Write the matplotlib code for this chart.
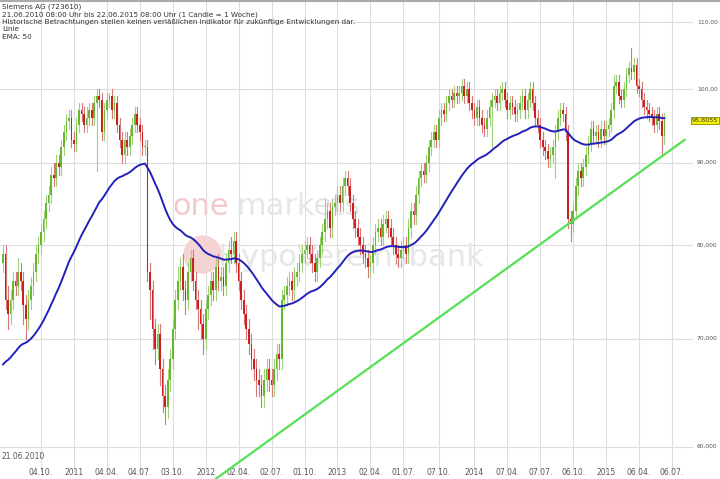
import numpy as np
import matplotlib
matplotlib.use("Agg")
import matplotlib.pyplot as plt

closes = [
 79, 74, 72.5, 74, 76, 75.5, 77, 76, 73.5, 72,
 74, 75.5, 77, 79, 80, 81.5, 83, 85, 86, 88.5,
 88, 90, 89.5, 92, 94, 95.5, 96, 93, 92.5, 95,
 97, 96.5, 95, 96, 97, 96, 98, 99, 98.5, 94,
 97, 98.5, 99, 97, 98, 95, 93, 91, 93, 92,
 93.5, 95, 96.5, 95, 94, 92, 92, 77, 75, 71,
 69, 70.5, 67, 64.5, 63.5, 66, 68, 71, 74, 76,
 77.5, 75, 74, 77, 78.5, 76, 74, 73, 71.5, 70,
 73, 74.5, 76, 75, 77.5, 76, 76.5, 75.5, 78, 79.5,
 79, 80.5, 78, 76, 74, 72.5, 71, 69.5, 68, 67,
 66, 65.5, 64.5, 66, 67, 66, 65.5, 67, 68.5, 68,
 74, 74.5, 75.5, 76, 75, 76.5, 77, 78, 79, 79.5,
 80, 79, 78, 77, 78.5, 80, 81.5, 83, 84, 82,
 84.5, 85, 86, 85, 87, 88, 87, 85, 83, 82,
 81, 80, 79, 78.5, 77.5, 78, 80, 81.5, 82, 81,
 82.5, 83, 82, 81, 80, 79, 78.5, 79.5, 80, 79,
 82, 84, 83.5, 86, 88, 89, 88.5, 90, 92, 93,
 94, 93, 96, 97, 96.5, 98, 99, 98.5, 99.5, 99,
 99.5, 100.5, 99, 100, 98, 97, 96, 97.5, 96, 95,
 94.5, 96, 97.5, 98.5, 99, 98, 99.5, 100, 98.5, 97,
 98, 97.5, 96.5, 97, 98, 99, 97, 98.5, 100, 98,
 96, 95, 93, 92, 91.5, 90.5, 91, 92, 94, 96,
 97, 96.5, 94, 83, 82.5, 84, 87, 89, 88, 89.5,
 91, 92.5, 94.5, 93.5, 94, 93, 94.5, 93.5, 94.5, 95,
 97, 100.5, 101, 99, 98.5, 100, 102, 103, 102.5, 103.5,
 100.5, 100, 98.5, 97.5, 97, 96.5, 96, 95, 96.5, 95.5, 93.5, 95.6,
]
first_open = 78.0
wick_up = [
 1, 1, 1.5, 1, 1, 1, 1.5, 1, 1, 1,
 1, 1, 1, 1, 1, 1, 1, 1, 1, 1,
 1.5, 1, 1, 1, 1, 1, 1, 1, 1, 1,
 1, 1, 1, 1.5, 1, 1, 1, 1, 1, 1,
 1, 1, 0.5, 1, 1, 1, 1, 1, 1, 1,
 1, 1, 1, 1, 1, 1, 1, 1, 1, 1,
 1, 1, 1, 1, 1, 1, 1, 1, 1, 1.5,
 1, 1.5, 1, 1, 1, 1, 1, 1, 1, 1,
 1, 1, 1, 1, 1, 1.5, 1, 1, 1, 1,
 1.5, 1, 1, 1, 1, 1, 1, 1, 1, 1,
 1, 1, 1, 1, 1, 1, 1, 1, 1, 1,
 1, 1, 1, 1, 1, 1, 1, 1, 1, 1,
 1, 1, 1, 1, 1, 1, 1, 2.5, 1, 1,
 1, 1, 1, 1, 1, 1, 1, 1, 1, 1,
 1, 1, 1, 1, 1, 1, 1, 1, 1, 1,
 1, 1, 1, 1, 1, 1, 1, 1, 1, 1,
 1, 1, 1, 1, 1, 1, 1, 1, 1, 1,
 1, 1, 1, 1, 1, 1, 1, 1, 1, 1,
 1, 1, 1, 1, 1, 1, 1, 1, 1, 1,
 1, 1, 1, 1, 1, 1, 1, 1, 1, 1,
 1, 1, 1, 1, 1, 1, 1, 1, 1, 1,
 1, 1, 1, 1, 1, 1, 1, 1, 1, 1,
 1, 1, 1, 1, 1, 1, 1, 1, 1, 1,
 1, 1, 1, 1, 1, 1, 1, 1, 1, 1,
 1, 1.5, 1, 1, 1, 1, 1, 1, 3, 1,
 1, 1, 1, 1, 1, 1, 1, 1, 1, 1, 1, 1,
]
wick_dn = [
 1, 1, 1.5, 1, 1, 1, 1, 1, 2, 2,
 1, 1, 1, 1, 1, 1, 1, 1, 1, 1,
 1, 1, 1, 1, 1, 1, 1, 1, 1, 1,
 1, 1, 1, 1, 1, 1, 1, 9, 1, 1,
 1, 1, 1, 1, 1, 1, 1, 1, 1, 1,
 1, 1, 1, 1, 1, 1, 1, 1, 3, 2,
 1.5, 1, 1.5, 1.5, 1.5, 1, 1, 1, 1, 1,
 1, 1, 1.5, 1, 1, 1, 1, 2, 1.5, 1.5,
 1, 1, 1, 1, 1, 1, 1, 1, 1, 1,
 1, 1, 1, 1, 1, 1, 1, 1, 1, 1,
 1.5, 1, 1, 1, 1, 1, 1, 1, 1, 1,
 1, 1, 1, 1, 1, 1, 1, 1, 1, 1,
 1, 1, 1, 1, 1, 1, 1, 1, 1, 1,
 1, 1, 1, 1, 1, 1, 1, 1, 1, 1,
 1, 1, 1, 1, 1, 1, 1, 1, 1, 1,
 1, 1, 1, 1, 1, 1, 1, 1, 1, 1,
 1, 1, 1, 1, 1, 1, 1, 1, 1, 1,
 1, 1, 1, 1, 1, 1, 1, 1, 1, 1,
 1, 1, 1, 1, 1, 1, 1, 1, 1, 1,
 1, 1, 1, 5.5, 1, 1, 1, 1, 1, 1,
 1, 1, 1, 1, 1, 1, 1, 1, 1, 1,
 1, 1, 1, 1, 1, 1, 1, 1, 4, 1,
 1, 1, 1, 1, 2, 1, 1, 1, 1, 1,
 1, 1, 1, 1, 1, 1, 1, 1, 1, 1,
 1, 1, 1, 1, 1, 1, 1, 1, 1, 1,
 1, 1, 1, 1, 1, 1, 1, 1, 1, 1, 2.5, 1,
]
ema_seed = 67.0
ema_span = 50
trend_pts_x = [84, 269]
trend_pts_y = [57.3, 93.0]
tick_weeks = [15, 28, 41, 54, 67, 80, 93, 106, 119, 132, 145, 158, 172, 186, 199, 212, 225, 238, 251, 264]
tick_labels = ["04.10.", "2011", "04.04.", "04.07.", "03.10.", "2012", "02.04.", "02.07.",
               "01.10.", "2013", "02.04.", "01.07.", "07.10.", "2014", "07.04.", "07.07.",
               "06.10.", "2015", "06.04.", "06.07."]
y_levels = [60, 70, 80, 90, 100, 110]
y_labels = ["60,000", "70,000", "80,000", "90,000", "100,00", "110,00"]
last_label = "95,6055"

n = len(closes)
opens = [first_open] + closes[:-1]
x = np.arange(n)
highs = [max(o, c) + u for o, c, u in zip(opens, closes, wick_up)]
lows = [min(o, c) - d for o, c, d in zip(opens, closes, wick_dn)]
ema = []
a = 2 / (ema_span + 1)
e = ema_seed
for c in closes:
    e = a * c + (1 - a) * e
    ema.append(e)

W, H = 720, 479
fig = plt.figure(figsize=(W / 100, H / 100), dpi=100)
ax = fig.add_axes([0, 0, 1, 1])
ax.set_yscale("log")
def px2w(p):
    return (p - 3) / 2.534
ax.set_xlim(px2w(0), px2w(W))
ytop = 100 * np.exp(89 / 700)
ybot = 100 * np.exp((89 - 479) / 700)
ax.set_ylim(ybot, ytop)
ax.axis("off")

xr = px2w(692)
for lv, lb in zip(y_levels, y_labels):
    ax.plot([px2w(0), xr], [lv, lv], color="#dddddd", lw=0.8, zorder=0)
    ax.text(px2w(697), lv, lb, fontsize=4.3, color="#555555", va="center", ha="left")
for tw, tl in zip(tick_weeks, tick_labels):
    ax.plot([tw, tw], [ybot * 1.012, ytop], color="#dddddd", lw=0.8, zorder=0)
    ax.text(tw, ybot * 1.003, tl, fontsize=5.5, color="#555555", ha="center", va="bottom")
ax.text(px2w(1), ybot * 1.026, "21.06.2010", fontsize=5.5, color="#555555", ha="left", va="bottom")
ax.plot([px2w(0), px2w(W)], [ytop * 0.998] * 2, color="#aaaaaa", lw=1.5)

# watermark
ax.text(px2w(172), 84.5, "one", fontsize=22, color="#f3c9c9", ha="left", va="center", zorder=0.5)
ax.text(px2w(236), 84.5, "markets", fontsize=22, color="#e6e6e6", ha="left", va="center", zorder=0.5)
ax.scatter([px2w(202)], [79.0], s=700, color="#f6d3d3", zorder=0.5)
ax.text(px2w(218), 78.6, "HypoVereinsbank", fontsize=22, color="#e6e6e6", ha="left", va="center", zorder=0.5)

green, red = "#66b82e", "#cc2020"
for i in range(n):
    col = green if closes[i] >= opens[i] else red
    wcol = "#9fd27a" if col == green else "#d97878"
    ax.plot([x[i], x[i]], [lows[i], highs[i]], color=wcol, lw=0.8, zorder=2)
    lo, hi = min(opens[i], closes[i]), max(opens[i], closes[i])
    if hi - lo < 0.2:
        hi = lo + 0.2
    ax.bar(x[i], hi - lo, bottom=lo, width=0.65, color=col, linewidth=0, zorder=3)

ax.plot(x, ema, color="#2222bb", lw=1.4, zorder=4)
ax.plot(trend_pts_x, trend_pts_y, color="#55e055", lw=1.6, zorder=5)

ax.text(px2w(692), closes[-1], last_label, fontsize=4.6, color="#333333", ha="left", va="center",
        bbox=dict(boxstyle="square,pad=0.15", fc="#f5f000", ec="#888800", lw=0.6), zorder=6)

hdr = ["Siemens AG (723610)",
       "21.06.2010 08:00 Uhr bis 22.06.2015 08:00 Uhr (1 Candle = 1 Woche)",
       "Historische Betrachtungen stellen keinen verläßlichen Indikator für zukünftige Entwicklungen dar."]
for k, t in enumerate(hdr):
    fig.text(2 / W, 1 - (7 + 7.5 * k) / H, t, fontsize=5.2, color="#333333", va="center")
fig.text(2 / W, 1 - 29 / H, "Linie", fontsize=5.2, color="#333333", va="center")
fig.text(2 / W, 1 - 37 / H, "EMA: 50", fontsize=5.2, color="#333333", va="center")

fig.savefig("out.png", dpi=100)
